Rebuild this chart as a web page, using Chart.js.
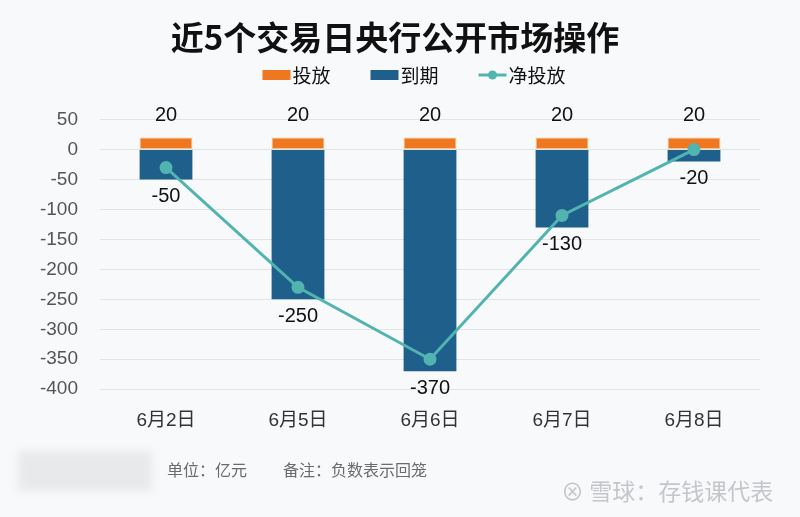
<!DOCTYPE html>
<html><head><meta charset="utf-8">
<script src="https://cdn.jsdelivr.net/npm/chart.js@4.4.0/dist/chart.umd.min.js"></script>
<style>
html,body{margin:0;padding:0;background:#f8f9fb;}
#wrap{position:relative;width:800px;height:517px;overflow:hidden;}
canvas{position:absolute;left:0;top:0;}
.ft{position:absolute;font-family:"Noto Sans CJK SC","Liberation Sans",sans-serif;white-space:nowrap;line-height:1;}
</style></head>
<body><div id="wrap"><canvas id="c" width="800" height="517"></canvas>
<div class="ft" style="left:18px;top:451px;width:134px;height:40px;background:#e8e9eb;filter:blur(4px);"></div>
<div class="ft" style="left:167px;top:461px;font-size:16px;color:#6b6b6b;">单位：亿元</div>
<div class="ft" style="left:283px;top:461px;font-size:16px;color:#6b6b6b;">备注：负数表示回笼</div>
<div class="ft" style="left:561px;top:479px;font-size:23px;color:#c4c6c9;">⊗ 雪球：存钱课代表</div>
</div>
<script>
const categories = ["6月2日","6月5日","6月6日","6月7日","6月8日"];
const injection = [20,20,20,20,20];
const maturity = [-50,-250,-370,-130,-20];
const net = [-30,-230,-350,-110,0];
const yTicks = [50,0,-50,-100,-150,-200,-250,-300,-350,-400];
const legendNames = ["投放","到期","净投放"];

const C_OR = "#ee7720", C_BL = "#1e5f8c", C_TL = "#52b4b0";
const FONT = '"Liberation Sans","Noto Sans CJK SC",sans-serif';
const CJK = '"Noto Sans CJK SC","Liberation Sans",sans-serif';

const labelPlugin={id:'lbl',afterDatasetsDraw(chart){
  const ctx=chart.ctx;ctx.save();ctx.font='20px '+FONT;ctx.fillStyle='#111';ctx.textAlign='center';ctx.textBaseline='middle';
  [0,1].forEach(di=>{const meta=chart.getDatasetMeta(di);const ds=chart.data.datasets[di];
    meta.data.forEach((b,i)=>{const v=ds.data[i];
      if(v>=0){ctx.fillText(String(v),b.x,b.y-22);}else{ctx.fillText(String(v),b.x,b.y+17);}});});
  ctx.restore();}};

const legendPlugin={id:'lgd',afterDraw(chart){
  const ctx=chart.ctx;ctx.save();
  const y=75; ctx.font='19px '+CJK; ctx.textBaseline='middle'; ctx.fillStyle='#111';
  const colors=[C_OR,C_BL,C_TL];
  const widths=legendNames.map(t=>ctx.measureText(t).width);
  const box=28, gapT=2, gapI=40;
  let total=0; widths.forEach((w,i)=>{total+=box+gapT+w+(i<2?gapI:0);});
  let x=(chart.width-total)/2+14;
  legendNames.forEach((t,i)=>{
    if(i<2){ctx.fillStyle=colors[i];ctx.fillRect(x,y-5,box,10);}
    else{ctx.strokeStyle=C_TL;ctx.lineWidth=3;ctx.beginPath();ctx.moveTo(x,y);ctx.lineTo(x+box,y);ctx.stroke();
      ctx.fillStyle=C_TL;ctx.beginPath();ctx.arc(x+box/2,y,4.5,0,Math.PI*2);ctx.fill();}
    ctx.fillStyle='#111';ctx.textAlign='left';ctx.fillText(t,x+box+gapT,y+1);
    x+=box+gapT+widths[i]+gapI;});
  ctx.restore();}};

new Chart(document.getElementById('c'),{
  data:{labels:categories,datasets:[
    {type:'bar',label:legendNames[0],data:injection,backgroundColor:C_OR,borderColor:'#f4c585',borderWidth:1,borderSkipped:false,stack:'s',barPercentage:0.8,categoryPercentage:0.5,order:2},
    {type:'bar',label:legendNames[1],data:maturity,backgroundColor:C_BL,stack:'s',barPercentage:0.8,categoryPercentage:0.5,order:2},
    {type:'line',label:legendNames[2],data:net,borderColor:C_TL,backgroundColor:C_TL,borderWidth:3,pointRadius:5,pointHoverRadius:5,stack:'n',order:1,tension:0}
  ]},
  options:{responsive:false,animation:false,devicePixelRatio:1,
    layout:{padding:{left:30,right:40,top:0,bottom:73}},
    plugins:{
      title:{display:true,text:'近5个交易日央行公开市场操作',color:'#111',font:{family:CJK,size:33,weight:'bold',lineHeight:1.2},padding:{top:18,bottom:62}},
      legend:{display:false},
      tooltip:{enabled:false}},
    scales:{
      x:{stacked:true,grid:{display:false},border:{display:false},ticks:{color:'#333',font:{family:FONT,size:19},padding:12}},
      y:{stacked:true,min:-400,max:50,afterBuildTicks(s){s.ticks=yTicks.map(v=>({value:v}));},
        afterFit(s){s.width=70;},
        grid:{color:'#e2e3e5',lineWidth:1,drawTicks:false},border:{display:false},
        ticks:{color:'#555',font:{family:FONT,size:19},padding:22}}
    }},
  plugins:[labelPlugin,legendPlugin]
});
</script></body></html>
